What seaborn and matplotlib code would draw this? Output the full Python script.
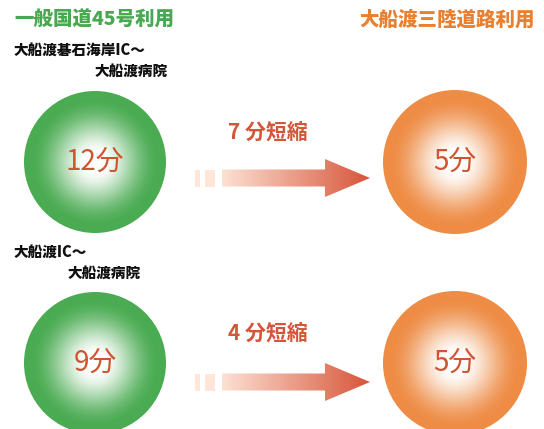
import numpy as np
import matplotlib
matplotlib.use("Agg")
import matplotlib.pyplot as plt
import seaborn as sns
from matplotlib.patches import Circle, Polygon, Rectangle
from matplotlib.colors import to_rgb

# ---- data ----
routes_from = ["大船渡碁石海岸IC～", "大船渡IC～"]
routes_to = ["大船渡病院", "大船渡病院"]
time_general = [12, 9]      # 一般国道45号利用 (分)
time_sanriku = [5, 5]       # 大船渡三陸道路利用 (分)
header_left = "一般国道45号利用"
header_right = "大船渡三陸道路利用"

sns.set_theme(style="white")
plt.rcParams['font.family'] = ['Noto Sans CJK JP', 'DejaVu Sans']

W, H = 544, 429
fig = plt.figure(figsize=(W / 100, H / 100), dpi=100)
ax = fig.add_axes([0, 0, 1, 1])
ax.set_xlim(0, W)
ax.set_ylim(H, 0)
ax.axis("off")

green = np.array(to_rgb("#4aab52"))
orange = np.array(to_rgb("#ee8c45"))
red = np.array(to_rgb("#d8553a"))
txt_red = "#cf5530"


def grad_circle(cx, cy, r, col):
    n = 240
    yy, xx = np.mgrid[-1:1:n * 1j, -1:1:n * 1j]
    rr = np.sqrt(xx ** 2 + yy ** 2)
    t = np.clip((rr - 0.12) / (0.92 - 0.12), 0, 1)
    t = t * t * (3 - 2 * t)
    t = t ** 0.85
    img = (1 - t[..., None]) * np.array([1, 1, 1]) + t[..., None] * col
    im = ax.imshow(img, extent=(cx - r, cx + r, cy + r, cy - r), zorder=2, interpolation="bilinear")
    clip = Circle((cx, cy), r, transform=ax.transData)
    im.set_clip_path(clip)


def grad_arrow(x1, cy):
    # faint dashes
    for (a, b) in [(195, 200), (205, 215)]:
        ax.add_patch(Rectangle((a, cy - 8), b - a, 17, color=(1, 0.9, 0.85), lw=0, zorder=2))
    shaft_x0 = 222
    head_x = 325
    pts = [(shaft_x0, cy - 8.5), (head_x, cy - 8.5), (head_x, cy - 19), (x1, cy),
           (head_x, cy + 19), (head_x, cy + 8.5), (shaft_x0, cy + 8.5)]
    n = 300
    g = np.linspace(0, 1, n)
    start = np.array([0.99, 0.88, 0.83])
    img = (1 - g[:, None]) * start + g[:, None] * red
    img = np.tile(img[None, :, :], (10, 1, 1))
    im = ax.imshow(img, extent=(shaft_x0, x1, cy + 20, cy - 20), zorder=2, aspect="auto")
    poly = Polygon(pts, closed=True, transform=ax.transData)
    im.set_clip_path(poly)


ax.text(14, 20, header_left, color="#4aa752", fontsize=14, fontweight="heavy", va="center", ha="left")
ax.text(535, 20, header_right, color="#e98030", fontsize=14, fontweight="heavy", va="center", ha="right")

rows_y = [162, 363]
label_y = [(50, 71), (252, 273)]
label_x2 = [95, 68]
for i in range(2):
    cy = rows_y[i]
    ax.text(14, label_y[i][0], routes_from[i], fontsize=10.5, fontweight="heavy", color="#111111", va="center")
    ax.text(label_x2[i], label_y[i][1], routes_to[i], fontsize=10.5, fontweight="heavy", color="#111111", va="center")
    grad_circle(95, cy, 71, green)
    grad_circle(455, cy, 72, orange)
    ax.text(95, cy, f"{time_general[i]}分", fontsize=20, color=txt_red, ha="center", va="center", zorder=3)
    ax.text(455, cy, f"{time_sanriku[i]}分", fontsize=20, color=txt_red, ha="center", va="center", zorder=3)
    saved = time_general[i] - time_sanriku[i]
    ax.text(268, cy - 29, f"{saved} 分短縮", fontsize=15, color="#d5553a", fontweight="bold",
            ha="center", va="center", zorder=3)
    grad_arrow(370, cy + 16 if i == 0 else cy + 19)

fig.savefig("out.png", dpi=100)
